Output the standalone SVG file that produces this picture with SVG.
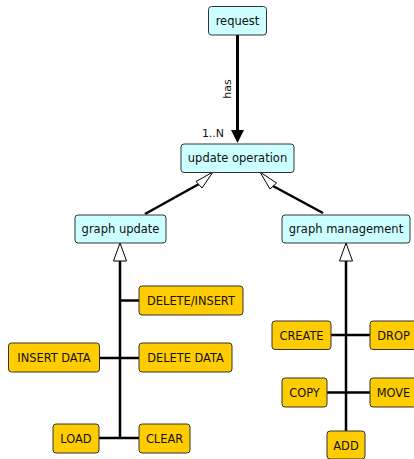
<svg xmlns="http://www.w3.org/2000/svg" width="414" height="459" viewBox="0 0 414 459">
<defs>
<style>
.c rect{fill:#ccffff;stroke:#333;stroke-width:1}
.y rect{fill:#ffcc00;stroke:#333;stroke-width:1}
text{font-family:"DejaVu Sans",sans-serif;fill:#111;text-anchor:middle}
.c text{font-size:11.5px}
.y text{font-size:11.4px}
.ln{stroke:#000;stroke-width:2.5;fill:none}
.hol{fill:#fff;stroke:#000;stroke-width:1}
</style>
</defs>
<rect width="414" height="459" fill="#fff"/>
<g id="connectors">
<line class="ln" x1="237.5" y1="35" x2="237.5" y2="132" style="stroke-width:3"/>
<polygon points="231,130 244,130 237.5,143" fill="#000"/>
<text x="0" y="0" transform="translate(231,89) rotate(-90)" style="font-size:11px">has</text>
<text x="213" y="137" style="font-size:11px">1..N</text>
<line class="ln" x1="145" y1="214" x2="199" y2="184"/>
<polygon class="hol" points="213,172 196,181.5 202,188"/>
<line class="ln" x1="323" y1="213" x2="273" y2="186"/>
<polygon class="hol" points="260,172 276.5,183 270,189"/>
<line class="ln" x1="120" y1="261" x2="120" y2="438"/>
<polygon class="hol" points="120,243 113.5,261 126.5,261"/>
<line class="ln" x1="120" y1="300.5" x2="139" y2="300.5"/>
<line class="ln" x1="99" y1="358" x2="139" y2="358"/>
<line class="ln" x1="99" y1="438" x2="139" y2="438"/>
<line class="ln" x1="346" y1="261" x2="346" y2="431"/>
<polygon class="hol" points="346,243 339.5,261 352.5,261"/>
<line class="ln" x1="331" y1="335" x2="370" y2="335"/>
<line class="ln" x1="327" y1="392.5" x2="370" y2="392.5"/>
</g>
<g id="request" class="c"><rect x="208.5" y="6.5" width="58" height="28.5" rx="3"/><text x="237.5" y="24.5">request</text></g>
<g id="update-operation" class="c"><rect x="181" y="144" width="113" height="28.5" rx="3"/><text x="237.5" y="162">update operation</text></g>
<g id="graph-update" class="c"><rect x="75" y="215" width="91" height="28" rx="3"/><text x="120.5" y="233">graph update</text></g>
<g id="graph-management" class="c"><rect x="282" y="215" width="128" height="28" rx="3"/><text x="346" y="233">graph management</text></g>
<g id="delete-insert" class="y"><rect x="139" y="286" width="104" height="29" rx="3"/><text x="191" y="304.5">DELETE/INSERT</text></g>
<g id="insert-data" class="y"><rect x="8.5" y="343" width="91" height="29" rx="3"/><text x="54" y="361.5">INSERT DATA</text></g>
<g id="delete-data" class="y"><rect x="139" y="343" width="93" height="29" rx="3"/><text x="185.5" y="361.5">DELETE DATA</text></g>
<g id="load" class="y"><rect x="53" y="424" width="46" height="29" rx="3"/><text x="76" y="442.5">LOAD</text></g>
<g id="clear" class="y"><rect x="139" y="424" width="51" height="29" rx="3"/><text x="164.5" y="442.5">CLEAR</text></g>
<g id="create" class="y"><rect x="272" y="321" width="59" height="28.5" rx="3"/><text x="301.5" y="339.5">CREATE</text></g>
<g id="drop" class="y"><rect x="370" y="321" width="48" height="28.5" rx="3"/><text x="393.5" y="339.5">DROP</text></g>
<g id="copy" class="y"><rect x="282" y="378" width="45" height="29" rx="3"/><text x="304.5" y="396.5">COPY</text></g>
<g id="move" class="y"><rect x="370" y="378" width="48" height="29" rx="3"/><text x="393.5" y="396.5">MOVE</text></g>
<g id="add" class="y"><rect x="327" y="431" width="38" height="28" rx="3"/><text x="346" y="449.5">ADD</text></g>
</svg>
